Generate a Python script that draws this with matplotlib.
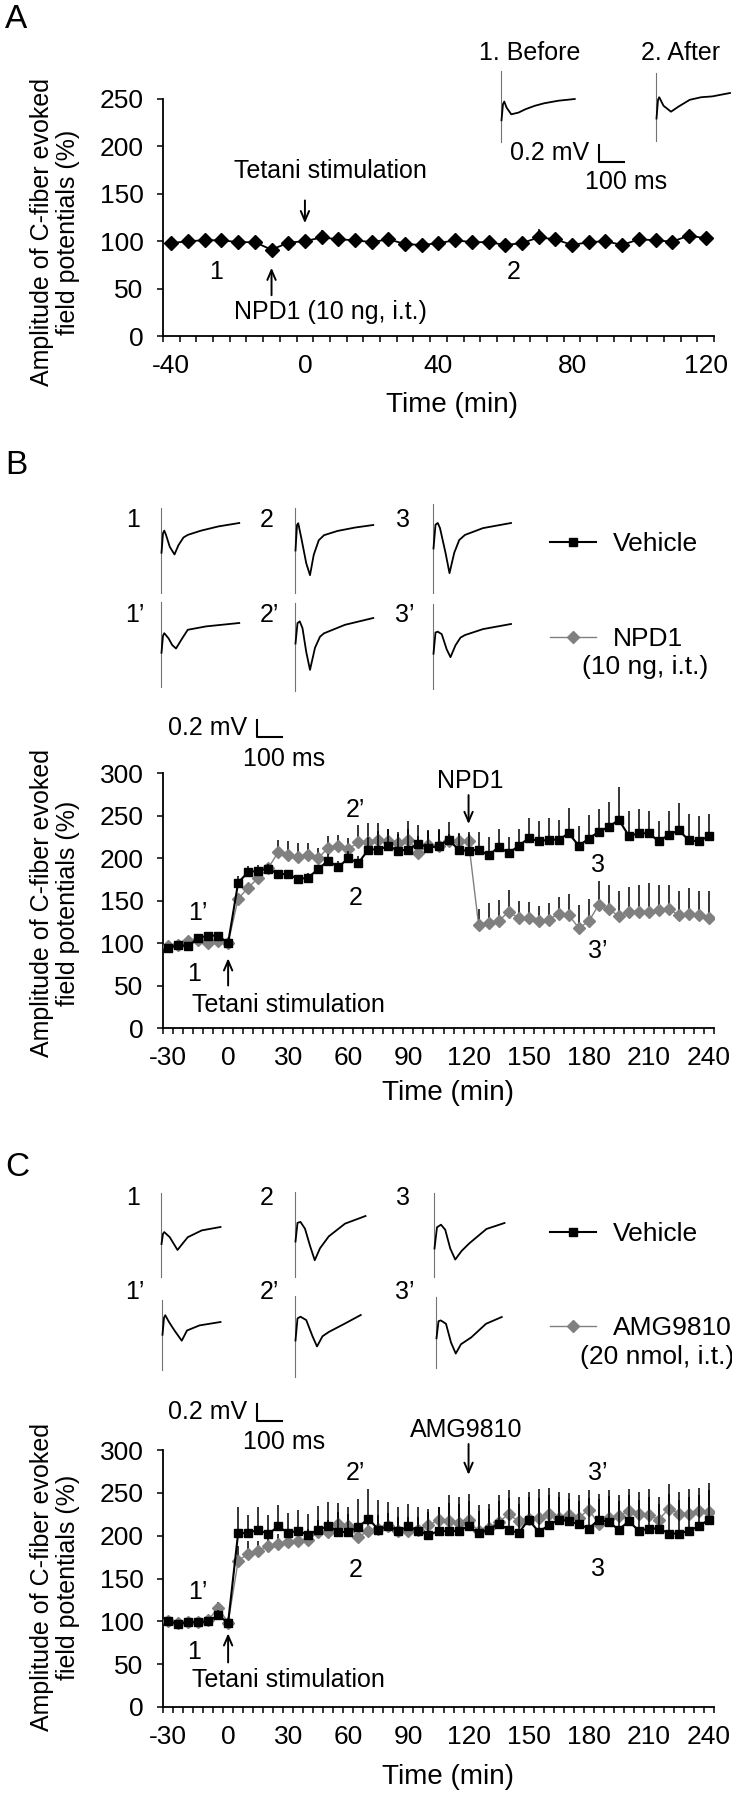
import numpy as np
import matplotlib
matplotlib.use("Agg")
import matplotlib.pyplot as plt

plt.rcParams["font.family"] = ["Liberation Sans Narrow", "Liberation Sans", "DejaVu Sans"]
plt.rcParams["axes.unicode_minus"] = False

W, H = 732, 1800
GREY = "#808080"
WIDE = ["Liberation Sans", "DejaVu Sans"]
PX_PER_MS = 0.25   # trace scale: 100 ms = 25 px
PX_PER_MV = 85.0   # trace scale: 0.2 mV = 17 px

# ---------------- panel A data ----------------
time_a = [-40, -35, -30, -25, -20, -15, -10, -5, 0, 5, 10, 15, 20, 25, 30, 35, 40,
          45, 50, 55, 60, 65, 70, 75, 80, 85, 90, 95, 100, 105, 110, 115, 120]
amp_a = [98, 100, 101, 101, 99, 99, 91, 98.5, 100, 104, 102, 101, 99, 102, 97, 96, 98,
         101, 99, 99, 96, 98, 104, 102, 96, 99, 100, 96, 102, 101, 99.5, 106, 103]
err_a = [2, 2, 2, 2, 2, 2, 3, 3, 4, 8, 3, 3, 3, 3, 3, 3, 3,
         3, 3, 3, 6, 6, 9, 4, 3, 3, 3, 3, 3, 3, 3, 4, 4]

# ---------------- panels B / C time axis ----------------
time_bc = [-30, -25, -20, -15, -10, -5, 0, 5, 10, 15, 20, 25, 30, 35, 40, 45, 50, 55,
           60, 65, 70, 75, 80, 85, 90, 95, 100, 105, 110, 115, 120, 125, 130, 135, 140,
           145, 150, 155, 160, 165, 170, 175, 180, 185, 190, 195, 200, 205, 210, 215,
           220, 225, 230, 235, 240]

veh_b = [94, 98, 96, 106, 108.6, 108.6, 100, 171, 183.5, 185, 187.5, 181, 181, 175, 177,
         187, 197, 189, 200, 194, 210, 210, 214, 208.6, 210, 217, 212, 214, 221.6, 210,
         208, 210, 203, 213, 206, 214, 223.5, 219.6, 221.6, 221.6, 229, 214.5, 222.7, 231,
         236.5, 245, 226, 229, 229, 219.6, 227.5, 232.5, 220.8, 219.6, 226]
veh_b_err = [3, 3, 3, 3, 3, 3, 3, 8, 7, 7, 6, 5, 5, 5, 5, 5, 8, 8, 8, 8, 15, 22, 20, 20,
             34, 22, 20, 20, 21, 19, 23, 21, 22, 21, 19, 20, 23.5, 23.5, 25.5, 23.5, 30,
             23.5, 27.5, 26.6, 29.5, 38.5, 29, 28.6, 26, 23.4, 27.5, 32, 31, 30, 26]
npd1_b = [96, 98, 102, 103, 100, 102, 100, 152, 165, 176.5, 188, 207, 204, 201, 204, 200,
          212, 214, 210.6, 218.4, 219, 221, 219.6, 217.6, 221.6, 206, 215.7, 214, 219.6,
          219.6, 219.6, 121.6, 123.5, 125.5, 137, 129.4, 129.4, 125.5, 127.5, 134.5, 133,
          117.6, 125.5, 145, 140, 131.4, 137, 137, 137, 138.4, 140, 132.5, 134.5, 133, 129.4]
npd1_b_err = [3, 3, 3, 3, 3, 3, 3, 6, 6, 6, 6, 14, 15.6, 17, 14, 12, 13.5, 13.5, 13, 21,
              22, 20, 15, 13, 12, 20, 17, 19, 9, 9, 9, 18, 23, 25, 25, 20, 18.6, 18, 19,
              20, 25, 27, 26, 27.5, 28.6, 29.6, 29, 31.6, 33.6, 30.2, 28.6, 28.5, 30.2, 28,
              31.6]

veh_c = [100, 97, 99, 99, 100, 107, 98.4, 203, 203, 207, 201.7, 211, 203, 206, 200.5, 207,
         211, 204.4, 204.4, 210, 220, 207, 211, 205.6, 211, 205.6, 200.5, 205.6, 205.6,
         205.6, 211, 203, 207, 214, 207, 203, 218.8, 204.4, 212, 218.8, 217, 213.4, 208.3,
         218.8, 216, 207, 217, 205.6, 208.3, 208.3, 202.5, 202.5, 205.6, 211, 218.8]
veh_c_err = [3, 3, 3, 3, 3, 6, 3, 30, 21, 27, 22, 25, 23, 24, 25, 28, 28, 34, 29, 33, 35,
             35, 28, 28, 26, 28, 31, 28, 33, 31, 30, 26, 24, 26, 37, 34, 26, 40, 35, 26,
             26, 27, 36, 24, 30, 33, 30, 36, 37, 29, 46, 39, 39, 36, 34]
amg_c = [100, 98, 99, 99, 101, 116, 98.4, 170.5, 179, 182, 187.6, 190, 192.7, 194, 195.4,
         204.4, 204.4, 214, 211, 198.6, 205.6, 208, 211, 205.6, 205.6, 206.3, 212, 218, 217,
         215, 218, 205, 209, 216, 225, 217, 220, 221, 225, 221, 224, 221, 230.5, 213.4, 221,
         222.7, 229, 225.8, 224, 218.8, 231.7, 225.8, 225, 229, 227.8]
amg_c_err = [3, 3, 3, 3, 3, 6, 3, 18, 15, 12, 12, 12, 12, 12, 12, 14, 14, 14, 14, 16, 16,
             16, 16, 16, 16, 16, 16, 16, 30, 30, 31, 30.6, 28.5, 31, 28, 28, 31, 33, 31, 30,
             26, 26, 22.5, 35.6, 32, 25.3, 26, 25.2, 30, 26.2, 28.3, 25.2, 29, 27, 33.2]

# ---------------- example traces (ms, mV); artifact = (top, bottom) ----------------
tr_a_before = ([2, 8, 13, 22, 41, 70, 98, 135, 173, 230, 295],
               [-0.25, -0.06, -0.03, -0.1, -0.18, -0.16, -0.12, -0.08, -0.05, -0.02, 0.0])
tr_a_after = ([2, 8, 13, 30, 60, 90, 135, 180, 225, 296],
              [-0.3, -0.08, -0.05, -0.15, -0.22, -0.16, -0.08, -0.05, -0.04, 0.0])
art_a = [(0.33, -0.50), (0.24, -0.57)]

tr_b = [([2, 8, 13, 20, 35, 54, 70, 90, 107, 160, 230, 313],
         [-0.35, -0.12, -0.09, -0.14, -0.28, -0.37, -0.26, -0.17, -0.14, -0.09, -0.04, 0]),
        ([2, 8, 13, 25, 45, 60, 75, 95, 116, 170, 240, 313],
         [-0.3, 0.0, 0.02, -0.15, -0.45, -0.59, -0.35, -0.18, -0.12, -0.07, -0.03, 0]),
        ([2, 10, 19, 28, 50, 66, 85, 105, 128, 200, 312],
         [-0.3, -0.02, 0.0, -0.06, -0.35, -0.59, -0.35, -0.2, -0.14, -0.06, 0]),
        ([2, 8, 13, 30, 45, 60, 85, 107, 180, 313],
         [-0.35, -0.15, -0.12, -0.18, -0.26, -0.3, -0.18, -0.08, -0.04, 0]),
        ([2, 10, 19, 30, 45, 60, 80, 100, 116, 200, 313],
         [-0.3, -0.06, -0.04, -0.12, -0.4, -0.61, -0.35, -0.22, -0.18, -0.08, 0]),
        ([2, 10, 19, 35, 55, 70, 90, 110, 128, 200, 312],
         [-0.35, -0.1, -0.09, -0.12, -0.3, -0.39, -0.25, -0.16, -0.13, -0.06, 0])]
art_b = [(0.18, -0.82), (0.2, -0.8), (0.22, -0.82), (0.25, -0.75), (0.18, -0.86), (0.24, -0.76)]

tr_c = [([2, 8, 13, 35, 66, 85, 107, 163, 200, 238],
         [-0.2, -0.08, -0.06, -0.12, -0.27, -0.2, -0.12, -0.04, -0.02, 0]),
        ([2, 10, 22, 40, 60, 79, 100, 135, 200, 282],
         [-0.3, -0.08, -0.07, -0.15, -0.35, -0.52, -0.38, -0.24, -0.09, 0]),
        ([2, 12, 28, 45, 65, 85, 110, 141, 210, 282],
         [-0.3, -0.05, -0.02, -0.08, -0.3, -0.43, -0.33, -0.24, -0.07, 0]),
        ([2, 8, 13, 28, 50, 79, 100, 150, 234],
         [-0.15, 0.05, 0.08, 0.0, -0.1, -0.22, -0.1, -0.04, 0]),
        ([2, 10, 22, 45, 70, 88, 110, 135, 200, 263],
         [-0.3, -0.04, -0.02, -0.06, -0.25, -0.37, -0.25, -0.2, -0.1, 0]),
        ([2, 10, 19, 40, 60, 79, 100, 141, 200, 263],
         [-0.25, -0.05, -0.04, -0.08, -0.3, -0.43, -0.32, -0.24, -0.08, 0])]
art_c = [(0.4, -0.59), (0.28, -0.72), (0.35, -0.64), (0.26, -0.56), (0.22, -0.73), (0.24, -0.6)]

trace_labels = ["1", "2", "3", "1\u2019", "2\u2019", "3\u2019"]

FS = 18  # narrow text size


def fx(x):
    return x / W


def fy(y):
    return 1 - y / H


fig = plt.figure(figsize=(W / 100, H / 100), dpi=100)

# overlay in ms / mV for the example traces and scale bars
ov = fig.add_axes([0, 0, 1, 1], zorder=0)
ov.set_xlim(0, W / PX_PER_MS)
ov.set_ylim(-H / PX_PER_MV, 0)
ov.axis("off")


def draw_trace(x_px, y_px, art, trace):
    x0 = x_px / PX_PER_MS
    y0 = -y_px / PX_PER_MV
    ov.plot([x0, x0], [y0 + art[0], y0 + art[1]], color="0.45", lw=0.8)
    ov.plot(x0 + np.array(trace[0]), y0 + np.array(trace[1]), color="k", lw=1.3)


def scale_bar(x_px, y_px, label_y):
    x0 = x_px / PX_PER_MS
    y0 = -y_px / PX_PER_MV
    ov.plot([x0, x0, x0 + 100], [y0 + 0.2, y0, y0], color="k", lw=1.5)
    fig.text(fx(x_px - 10), fy(y_px - 9), "0.2 mV", ha="right", va="center", fontsize=FS)
    fig.text(fx(x_px + 27), fy(label_y), "100 ms", ha="center", va="center", fontsize=FS)


def make_axes(top, bottom):
    ax = fig.add_axes([fx(163), fy(bottom), fx(714) - fx(163), (bottom - top) / H], zorder=2)
    ax.patch.set_alpha(0)
    return ax


def style(ax, ymax, xlo, xhi, labels):
    for s in ["top", "right"]:
        ax.spines[s].set_visible(False)
    for s in ["left", "bottom"]:
        ax.spines[s].set_linewidth(1.3)
    ax.set_ylim(0, ymax)
    ax.set_yticks(range(0, ymax + 1, 50))
    ax.set_xlim(xlo, xhi)
    ax.set_xticks(labels)
    ax.set_xticks(np.arange(xlo, xhi + 0.1, 5), minor=True)
    ax.tick_params(axis="x", which="major", length=0, pad=13, labelsize=19)
    ax.tick_params(axis="x", which="minor", length=4, width=1.1, direction="out")
    ax.tick_params(axis="y", length=4, width=1.1, pad=10, labelsize=19)


def ylabel(y_center):
    fig.text(fx(55), fy(y_center), "Amplitude of C-fiber evoked\nfield potentials (%)",
             rotation=90, ha="center", va="center", multialignment="center",
             fontsize=18, linespacing=1.1, family=WIDE)


def arrow(ax, x, tail, tip):
    ax.annotate("", xy=(x, tip), xytext=(x, tail), annotation_clip=False,
                arrowprops=dict(arrowstyle="->,head_length=0.7,head_width=0.3", lw=1.4,
                                color="k", shrinkA=0, shrinkB=0))


def series(ax, t, v, e, marker, color, lw, ms, z):
    cont = ax.errorbar(t, v, yerr=[np.zeros(len(e)), e], fmt="-", marker=marker, color=color,
                       lw=lw, ms=ms, mfc=color, mec=color, ecolor="k", elinewidth=1.1,
                       capsize=0, zorder=z)
    return cont.lines[0]


def legend_entry(handle, label, x_px, y_px):
    fig.legend([handle], [label], loc="center left", bbox_to_anchor=(fx(x_px), fy(y_px)),
               frameon=False, borderpad=0, borderaxespad=0, handlelength=1.75,
               handletextpad=0.65, fontsize=FS + 1, numpoints=1)


# ================= Panel A =================
fig.text(fx(5), fy(20), "A", ha="left", va="center", fontsize=24, family=WIDE)
fig.text(fx(530), fy(53), "1. Before", ha="center", va="center", fontsize=FS)
fig.text(fx(681), fy(53), "2. After", ha="center", va="center", fontsize=FS)
draw_trace(501, 99, art_a[0], tr_a_before)
draw_trace(656, 93, art_a[1], tr_a_after)
scale_bar(599, 162, 182)

axA = make_axes(99, 336)
series(axA, time_a, amp_a, err_a, "D", "k", 1.3, 7, 3)
style(axA, 250, -42.5, 122.5, [-40, 0, 40, 80, 120])
axA.text(-26.6, 67, "1", ha="center", va="center", fontsize=FS)
axA.text(62.6, 67, "2", ha="center", va="center", fontsize=FS)
axA.text(7.5, 25, "NPD1 (10 ng, i.t.)", ha="center", va="center", fontsize=FS)
axA.text(7.5, 174, "Tetani stimulation", ha="center", va="center", fontsize=FS)
arrow(axA, -10, 43, 72)
arrow(axA, 0, 143, 119)
ylabel(232)
fig.text(fx(452), fy(405), "Time (min)", ha="center", va="center", fontsize=20)

# ================= Panel B =================
fig.text(fx(5), fy(465), "B", ha="left", va="center", fontsize=24, family=WIDE)
pos_b = [(161, 523), (295, 525), (433, 523), (161, 623), (295, 618), (433, 624)]
lab_b = [(133, 520), (267, 520), (403, 520), (135, 615), (269, 615), (405, 615)]
for k in range(6):
    draw_trace(pos_b[k][0], pos_b[k][1], art_b[k], tr_b[k])
    fig.text(fx(lab_b[k][0]), fy(lab_b[k][1]), trace_labels[k], ha="center", va="center", fontsize=FS)
scale_bar(257, 737, 759)

axB = make_axes(773, 1028)
h_npd1 = series(axB, time_bc, npd1_b, npd1_b_err, "D", GREY, 1.0, 6.5, 3)
h_veh = series(axB, time_bc, veh_b, veh_b_err, "s", "k", 1.5, 6.3, 4)
style(axB, 300, -32.5, 242.5, [-30, 0, 30, 60, 90, 120, 150, 180, 210, 240])
axB.text(-15, 135, "1\u2019", ha="center", va="center", fontsize=FS)
axB.text(-17, 63, "1", ha="center", va="center", fontsize=FS)
axB.text(30, 27.5, "Tetani stimulation", ha="center", va="center", fontsize=FS)
axB.text(63.5, 257, "2\u2019", ha="center", va="center", fontsize=FS)
axB.text(63.5, 153, "2", ha="center", va="center", fontsize=FS)
axB.text(121, 291, "NPD1", ha="center", va="center", fontsize=FS)
axB.text(184.6, 192, "3", ha="center", va="center", fontsize=FS)
axB.text(184.6, 90, "3\u2019", ha="center", va="center", fontsize=FS)
arrow(axB, 0, 50, 82)
arrow(axB, 120, 274, 240)
ylabel(903)
fig.text(fx(448), fy(1093), "Time (min)", ha="center", va="center", fontsize=20)
legend_entry(h_veh, "Vehicle", 550, 544)
legend_entry(h_npd1, "NPD1", 550, 639)
fig.text(fx(645), fy(667), "(10 ng, i.t.)", ha="center", va="center", fontsize=FS + 1)

# ================= Panel C =================
fig.text(fx(5), fy(1167), "C", ha="left", va="center", fontsize=24, family=WIDE)
pos_c = [(161, 1227), (295, 1216), (434, 1223), (162, 1322), (295, 1315), (436, 1317)]
lab_c = [(133, 1198), (267, 1198), (403, 1198), (135, 1292), (269, 1292), (405, 1292)]
for k in range(6):
    draw_trace(pos_c[k][0], pos_c[k][1], art_c[k], tr_c[k])
    fig.text(fx(lab_c[k][0]), fy(lab_c[k][1]), trace_labels[k], ha="center", va="center", fontsize=FS)
scale_bar(257, 1421, 1442)

axC = make_axes(1450, 1707)
h_amg = series(axC, time_bc, amg_c, amg_c_err, "D", GREY, 1.0, 6.5, 3)
h_veh_c = series(axC, time_bc, veh_c, veh_c_err, "s", "k", 1.5, 6.3, 4)
style(axC, 300, -32.5, 242.5, [-30, 0, 30, 60, 90, 120, 150, 180, 210, 240])
axC.text(-15, 134, "1\u2019", ha="center", va="center", fontsize=FS)
axC.text(-17, 64, "1", ha="center", va="center", fontsize=FS)
axC.text(30, 31, "Tetani stimulation", ha="center", va="center", fontsize=FS)
axC.text(63.5, 272.6, "2\u2019", ha="center", va="center", fontsize=FS)
axC.text(63.5, 159.6, "2", ha="center", va="center", fontsize=FS)
axC.text(184.6, 272.6, "3\u2019", ha="center", va="center", fontsize=FS)
axC.text(184.6, 161.5, "3", ha="center", va="center", fontsize=FS)
axC.text(119, 323, "AMG9810", ha="center", va="center", fontsize=FS, clip_on=False)
arrow(axC, 0, 52, 86)
arrow(axC, 120, 307, 271)
ylabel(1577)
fig.text(fx(448), fy(1777), "Time (min)", ha="center", va="center", fontsize=20)
legend_entry(h_veh_c, "Vehicle", 550, 1234)
legend_entry(h_amg, "AMG9810", 550, 1328)
fig.text(fx(657), fy(1357), "(20 nmol, i.t.)", ha="center", va="center", fontsize=FS + 1)

fig.savefig("out.png", dpi=100)
plt.close()
